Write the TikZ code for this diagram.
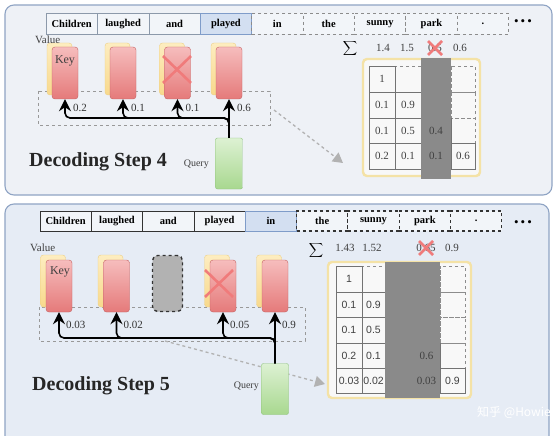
\documentclass[tikz,border=0pt]{standalone}
\usepackage{fontspec}
\setmainfont{Liberation Serif}
\setsansfont{Liberation Sans}
\newfontfamily\cjkfont{Noto Sans CJK SC}
\usetikzlibrary{arrows.meta,positioning}

\definecolor{panelfillA}{HTML}{EEF1F6}
\definecolor{panelfillB}{HTML}{E6ECF5}
\definecolor{panelline}{HTML}{8FA4C4}
\definecolor{tokfill}{HTML}{F2F5F9}
\definecolor{tokline}{HTML}{8C99AA}
\definecolor{curfill}{HTML}{D3DFF1}
\definecolor{curline}{HTML}{7F9CC9}
\definecolor{keytop}{HTML}{F6BDBD}
\definecolor{keybot}{HTML}{E57A7A}
\definecolor{keyline}{HTML}{C46060}
\definecolor{valtop}{HTML}{FDEDC0}
\definecolor{valbot}{HTML}{F8D98C}
\definecolor{valline}{HTML}{EDCF84}
\definecolor{qtop}{HTML}{DDF1D3}
\definecolor{qbot}{HTML}{A8D88F}
\definecolor{qline}{HTML}{8CC27A}
\definecolor{crossred}{HTML}{F07B7B}
\definecolor{frameyel}{HTML}{F4E2A6}
\definecolor{cellfill}{HTML}{F8F8F8}
\definecolor{evict}{HTML}{8A8A8A}

% cell edges of the two attention matrices
\def\colsA{{369,395,421,451,475}}
\def\rowsA{{66,92,118,143,169}}
\def\colsB{{336,362,385,413,440,465}}
\def\rowsB{{266,292,317,343,368,393}}

\begin{document}
\begin{tikzpicture}[
    x=1pt, y=-1pt,
    panel/.style={draw=panelline, line width=1.1pt, rounded corners=9pt},
    tok/.style={draw=tokline, fill=tokfill, minimum width=51.4pt, minimum height=21pt,
        inner sep=0pt, font=\bfseries\fontsize{10.5}{11}\selectfont},
    cur/.style={tok, fill=curfill, draw=curline},
    fut/.style={tok, dashed, draw=black!45, line width=0.9pt},
    tokb/.style={tok, draw=black!80, line width=0.9pt},
    futb/.style={tok, dashed, draw=black!80, line width=1.1pt},
    dots/.style={inner sep=0pt, font=\fontsize{13}{14}\selectfont},
    key/.style={draw=keyline, top color=keytop, bottom color=keybot, rounded corners=3pt,
        minimum width=26pt, minimum height=52pt, inner sep=0pt},
    val/.style={draw=valline, top color=valtop, bottom color=valbot, rounded corners=3pt,
        minimum width=25pt, minimum height=52pt, inner sep=0pt},
    query/.style={draw=qline, top color=qtop, bottom color=qbot, rounded corners=2pt,
        minimum width=27pt, minimum height=51pt, inner sep=0pt},
    evicted/.style={draw=black!80, fill=black!30, dashed, line width=1.4pt, rounded corners=5pt,
        minimum width=30pt, minimum height=56pt, inner sep=0pt},
    att/.style={line width=1.6pt, rounded corners=5pt, -{Stealth[length=12pt,width=12pt,inset=4pt]}},
    region/.style={draw=black!40, dashed, line width=0.9pt},
    hint/.style={draw=black!30, dashed, line width=1.3pt, -{Triangle[length=10pt,width=11pt,fill=black!30]}},
    cross/.style={draw=crossred, line width=2.6pt},
    wt/.style={anchor=west, inner sep=0pt, font=\fontsize{11}{12}\selectfont, text=black!80},
    lbl/.style={inner sep=0pt, font=\fontsize{11}{12}\selectfont, text=black!75},
    title/.style={inner sep=0pt, font=\bfseries\fontsize{20}{24}\selectfont, text=black!85},
    sigma/.style={inner sep=0pt, font=\fontsize{12}{14}\selectfont},
    frame/.style={draw=frameyel, fill=cellfill, line width=2.4pt, rounded corners=4pt},
    cell/.style={draw=black!55, line width=0.9pt},
    cellup/.style={draw=black!45, dashed, line width=0.9pt},
    num/.style={inner sep=0pt, font=\fontsize{11}{12}\selectfont, text=black!75}
    ]

\useasboundingbox (0,0) rectangle (560,436);
\fill[white] (0,0) rectangle (560,436);

% panels
\draw[panel, fill=panelfillA] (5,5) rectangle (552,195);
\draw[panel, fill=panelfillB] (5,204) rectangle (549,450);

% ---------------- decoding step 4 ----------------
\foreach \word/\s [count=\i from 0] in {Children/tok,laughed/tok,and/tok,played/cur,
        in/fut,the/fut,sunny/fut,park/fut,./fut}
    \node[\s] (a\i) at (71.7+51.4*\i,24) {\word};
\node[dots] (dots4) at (523,23) {\textbullet\thinspace\textbullet\thinspace\textbullet};

\draw[region] (38,91) rectangle (270,125);
\coordinate (h4a) at (274,110);
\coordinate (h4b) at (343,163);
\draw[hint] (h4a) -- (h4b);

\foreach \x/\n in {65/1,123/2,177.5/3,229/4} {
    \node[val] (v4\n) at (\x-5.5,69) {};
    \node[key] (k4\n) at (\x,73) {};
}
\node[lbl, anchor=west] (vl4) at (35,40) {Value};
\node[lbl, font=\fontsize{12}{13}\selectfont] (kl4) at (65,61) {Key};
\draw[cross] (163,56) -- (191,83) (191,56) -- (163,83);

\node[query] (q4) at (229,163.5) {};
\node[lbl, font=\fontsize{10}{11}\selectfont, anchor=east] (ql4) at (209,164) {Query};
\coordinate (j4) at (229,118);
\foreach \n in {1,2,3}
    \draw[att] (q4.north) -- (j4) -| (k4\n.south);
\draw[att] (q4.north) -- (k44.south);
\foreach \n/\w in {1/0.2,2/0.1,3/0.1,4/0.6}
    \node[wt] (w4\n) at ([xshift=8pt,yshift=-9pt]k4\n.south) {\w};

\node[title, anchor=west] (t4) at (29,162) {Decoding Step 4};

% attention matrix, step 4
\draw[frame] (363,59) rectangle (480,176);
\foreach \i in {0,...,3} \foreach \j in {0,...,3} {
    \pgfmathsetmacro\xl{\colsA[\j]}
    \pgfmathsetmacro\xr{\colsA[\j+1]}
    \pgfmathsetmacro\yt{\rowsA[\i]}
    \pgfmathsetmacro\yb{\rowsA[\i+1]}
    \ifnum\j>\i \draw[cellup] (\xl,\yt) rectangle (\xr,\yb); \fi
}
\foreach \i in {0,...,3} \foreach \j in {0,...,3} {
    \pgfmathsetmacro\xl{\colsA[\j]}
    \pgfmathsetmacro\xr{\colsA[\j+1]}
    \pgfmathsetmacro\yt{\rowsA[\i]}
    \pgfmathsetmacro\yb{\rowsA[\i+1]}
    \ifnum\j>\i \else \draw[cell] (\xl,\yt) rectangle (\xr,\yb); \fi
}
\fill[evict] (421,58) rectangle (451,179);
\foreach \i/\row in {0/{1},1/{0.1,0.9},2/{0.1,0.5,0.4},3/{0.2,0.1,0.1,0.6}}
    \foreach \v [count=\j from 0] in \row {
        \pgfmathsetmacro\xl{\colsA[\j]}
        \pgfmathsetmacro\xr{\colsA[\j+1]}
        \pgfmathsetmacro\yt{\rowsA[\i]}
        \pgfmathsetmacro\yb{\rowsA[\i+1]}
        \node[num] (m4-\i-\j) at ({(\xl+\xr)/2},{(\yt+\yb)/2}) {\v};
    }
\node[sigma] (sum4) at (350,49) {$\displaystyle\sum$};
\foreach \x/\v [count=\n] in {383/1.4,407/1.5,435/0.5,460/0.6}
    \node[num] (s4\n) at (\x,48) {\v};
\draw[cross] (428,41) -- (442,55) (442,41) -- (428,55);

% ---------------- decoding step 5 ----------------
\foreach \word/\s [count=\i from 0] in {Children/tokb,laughed/tokb,and/tokb,played/tokb,
        in/cur,the/futb,sunny/futb,park/futb,./futb}
    \node[\s, minimum width=51.3pt, minimum height=20pt] (b\i) at (65.7+51.3*\i,221) {\word};
\node[dots] (dots5) at (523,224) {\textbullet\thinspace\textbullet\thinspace\textbullet};

\draw[region] (39,307) rectangle (305,341);
\coordinate (h5a) at (165,341);
\coordinate (h5b) at (325,384);
\draw[hint] (h5a) -- (h5b);

\foreach \x/\n in {59/1,116.5/2,223/4,275/5} {
    \node[val] (v5\n) at (\x-6,281) {};
    \node[key] (k5\n) at (\x,286) {};
}
\node[evicted] (k53) at (167.5,283.5) {};
\node[lbl, anchor=west] (vl5) at (30,248) {Value};
\node[lbl, font=\fontsize{12}{13}\selectfont] (kl5) at (60,272) {Key};
\draw[cross] (205,270) -- (233,297) (233,270) -- (205,297);

\node[query] (q5) at (275,389) {};
\node[lbl, font=\fontsize{10}{11}\selectfont, anchor=east] (ql5) at (259,386) {Query};
\coordinate (j5) at (275,338);
\foreach \n in {1,2,4}
    \draw[att] (q5.north) -- (j5) -| (k5\n.south);
\draw[att] (q5.north) -- (k55.south);
\foreach \n/\w in {1/0.03,2/0.02,4/0.05,5/0.9}
    \node[wt] (w5\n) at ([xshift=7pt,yshift=-13pt]k5\n.south) {\w};

\node[title, anchor=west] (t5) at (32,386) {Decoding Step 5};

% attention matrix, step 5
\draw[frame] (328,262) rectangle (471,398);
\foreach \i in {0,...,4} \foreach \j in {0,...,4} {
    \pgfmathsetmacro\xl{\colsB[\j]}
    \pgfmathsetmacro\xr{\colsB[\j+1]}
    \pgfmathsetmacro\yt{\rowsB[\i]}
    \pgfmathsetmacro\yb{\rowsB[\i+1]}
    \ifnum\j>\i \draw[cellup] (\xl,\yt) rectangle (\xr,\yb); \fi
}
\foreach \i in {0,...,4} \foreach \j in {0,...,4} {
    \pgfmathsetmacro\xl{\colsB[\j]}
    \pgfmathsetmacro\xr{\colsB[\j+1]}
    \pgfmathsetmacro\yt{\rowsB[\i]}
    \pgfmathsetmacro\yb{\rowsB[\i+1]}
    \ifnum\j>\i \else \draw[cell] (\xl,\yt) rectangle (\xr,\yb); \fi
}
\fill[evict] (385,262) rectangle (440,398);
\foreach \i/\row in {0/{1},1/{0.1,0.9},2/{0.1,0.5},3/{0.2,0.1,{},0.6},4/{0.03,0.02,{},0.03,0.9}}
    \foreach \v [count=\j from 0] in \row {
        \pgfmathsetmacro\xl{\colsB[\j]}
        \pgfmathsetmacro\xr{\colsB[\j+1]}
        \pgfmathsetmacro\yt{\rowsB[\i]}
        \pgfmathsetmacro\yb{\rowsB[\i+1]}
        \ifnum\j=3
            \node[num] (m5-\i-\j) at ({(\xl+\xr)/2},{(\yt+\yb)/2}) {\v};
        \else
            \node[num, font=\sffamily\fontsize{10.5}{11}\selectfont] (m5-\i-\j) at ({(\xl+\xr)/2},{(\yt+\yb)/2}) {\v};
        \fi
    }
\node[sigma] (sum5) at (316,250) {$\displaystyle\sum$};
\foreach \x/\v [count=\n] in {345/1.43,372/1.52,426/0.65,452/0.9}
    \node[num] (s5\n) at (\x,248) {\v};
\draw[cross] (419,241) -- (433,255) (433,241) -- (419,255);

\node[inner sep=0pt, text=white, font=\cjkfont\fontsize{12}{13}\selectfont] (mark) at (514,412) {知乎 @Howie};
\end{tikzpicture}
\end{document}
